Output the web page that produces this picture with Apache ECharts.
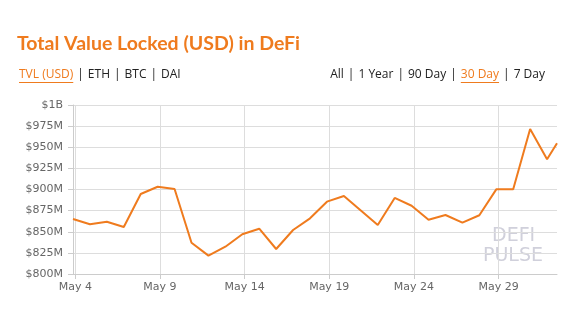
<!DOCTYPE html>
<html>
<head>
<meta charset="utf-8">
<script src="https://cdn.jsdelivr.net/npm/echarts@6/dist/echarts.min.js"></script>
<style>
html,body{margin:0;padding:0;background:#fff;}
#chart{width:578px;height:325px;}
</style>
</head>
<body>
<div id="chart"></div>
<script>
// ---- data ----
const dates = [
  '2020-05-03 20:45','2020-05-04 20:45','2020-05-05 20:45','2020-05-06 20:45','2020-05-07 20:45',
  '2020-05-08 20:45','2020-05-09 20:45','2020-05-10 20:45','2020-05-11 20:45','2020-05-12 20:45',
  '2020-05-13 20:45','2020-05-14 20:45','2020-05-15 20:45','2020-05-16 20:45','2020-05-17 20:45',
  '2020-05-18 20:45','2020-05-19 20:45','2020-05-20 20:45','2020-05-21 20:45','2020-05-22 20:45',
  '2020-05-23 20:45','2020-05-24 20:45','2020-05-25 20:45','2020-05-26 20:45','2020-05-27 20:45',
  '2020-05-28 20:45','2020-05-29 20:45','2020-05-30 20:45','2020-05-31 20:45','2020-06-01 10:50'
];
const tvlMillions = [
  865.1, 858.8, 861.9, 855.6, 894.7,
  903.3, 900.6, 837.0, 821.7, 832.3,
  847.0, 853.6, 829.6, 852.1, 865.9,
  885.6, 892.3, 875.1, 858.0, 890.0,
  880.8, 864.3, 869.8, 860.7, 869.5,
  900.2, 900.2, 971.6, 935.7, 954.7
];
const xTickDates = ['2020-05-04','2020-05-09','2020-05-14','2020-05-19','2020-05-24','2020-05-29'];
const yMin = 800, yMax = 1000, yStep = 25;
const titleText = 'Total Value Locked (USD) in DeFi';
const leftTabs = ['TVL (USD)','ETH','BTC','DAI'];
const leftActive = 0;
const rightTabs = ['All','1 Year','90 Day','30 Day','7 Day'];
const rightActive = 3;
const monthNames = ['Jan','Feb','Mar','Apr','May','Jun','Jul','Aug','Sep','Oct','Nov','Dec'];

// ---- build ----
const ORANGE = '#ef7b1e';
function parse(s){
  const m = s.match(/(\d+)-(\d+)-(\d+)(?:\s+(\d+):(\d+))?/);
  return new Date(+m[1], +m[2]-1, +m[3], +(m[4]||0), +(m[5]||0)).getTime();
}
const seriesData = dates.map((d,i) => [parse(d), tvlMillions[i]*1e6]);
const tickVals = xTickDates.map(parse);
const xMin = seriesData[0][0], xMax = seriesData[seriesData.length-1][0];

const ctx = document.createElement('canvas').getContext('2d');
const tabFont = '12px "Open Sans"';
const GAP = 4;
function measure(t, f){ ctx.font = f; return ctx.measureText(t).width; }

function buildTabs(tabs, active, startX, y){
  const els = [];
  let x = startX;
  const barW = measure('|', tabFont);
  tabs.forEach((t,i) => {
    const w = measure(t, tabFont);
    els.push({type:'text', left:x, top:y, style:{text:t, font:tabFont, fill: i===active?ORANGE:'#222'}});
    if (i===active){
      els.push({type:'line', shape:{x1:x, y1:y+13.5, x2:x+w, y2:y+13.5}, style:{stroke:ORANGE, lineWidth:1}});
    }
    x += w;
    if (i < tabs.length-1){
      x += GAP;
      els.push({type:'text', left:x, top:y, style:{text:'|', font:tabFont, fill:'#222'}});
      x += barW + GAP;
    }
  });
  return els;
}
function tabsWidth(tabs){
  let w = 0;
  const barW = measure('|', tabFont);
  tabs.forEach((t,i)=>{ w += measure(t, tabFont); if(i<tabs.length-1) w += barW + 2*GAP; });
  return w;
}

const chart = echarts.init(document.getElementById('chart'), null, {renderer:'canvas'});
const rightStart = 545 - tabsWidth(rightTabs);

chart.setOption({
  animation:false,
  backgroundColor:'#fff',
  title:{
    text:titleText, left:12, top:29,
    textStyle:{color:ORANGE, fontFamily:'Lato', fontWeight:'bold', fontSize:19.5}
  },
  graphic: [
    ...buildTabs(leftTabs, leftActive, 19, 69),
    ...buildTabs(rightTabs, rightActive, rightStart, 69),
    {type:'text', left:492, top:227, z:-1, style:{text:'DEFI', font:'19px "DejaVu Sans"', fill:'#d0d0db'}},
    {type:'text', left:483, top:247, z:-1, style:{text:'PULSE', font:'19px "DejaVu Sans"', fill:'#d0d0db'}}
  ],
  grid:{left:73, right:21, top:105, bottom:51, containLabel:false},
  xAxis:{
    type:'value',
    min:xMin, max:xMax,
    axisLine:{show:true, lineStyle:{color:'#ccc'}},
    axisTick:{show:true, length:5, lineStyle:{color:'#ccc'}, customValues:tickVals},
    splitLine:{show:true, lineStyle:{color:'#ddd'}},
    axisLabel:{
      customValues:tickVals, margin:8, color:'#666',
      fontFamily:'"DejaVu Sans"', fontSize:11,
      formatter: v => { const d = new Date(v); return monthNames[d.getMonth()] + ' ' + d.getDate(); }
    }
  },
  yAxis:{
    type:'value', min:yMin*1e6, max:yMax*1e6, interval:yStep*1e6,
    axisLine:{show:true, lineStyle:{color:'#ccc'}},
    axisTick:{show:true, length:5, lineStyle:{color:'#ccc'}},
    splitLine:{show:true, lineStyle:{color:'#ddd'}},
    axisLabel:{
      margin:10, color:'#666', fontFamily:'"DejaVu Sans"', fontSize:11,
      formatter: v => v >= 1e9 ? '$' + (v/1e9) + 'B' : '$' + Math.round(v/1e6) + 'M'
    }
  },
  series:[{
    type:'line', data:seriesData, showSymbol:false, symbol:'none',
    lineStyle:{color:ORANGE, width:2}, itemStyle:{color:ORANGE}
  }]
});
</script>
</body>
</html>
